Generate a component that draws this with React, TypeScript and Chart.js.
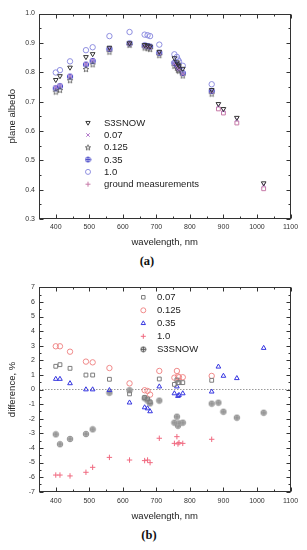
import React, { useEffect, useRef } from 'react';
import { Chart, registerables } from 'chart.js';
import { drawPoint } from 'chart.js/helpers';

Chart.register(...registerables);

// ---------- data ----------
const wavelengths = [400, 412.5, 442.5, 490, 510, 560, 620, 665, 673.75, 681.25, 708.75, 753.75, 761.25, 764.375, 767.5, 778.75, 865, 885, 900, 940, 1020];

// panel (a): plane albedo
const albedoS3SNOW = [0.774, 0.787, 0.816, 0.852, 0.862, 0.884, 0.899, 0.893, 0.891, 0.888, 0.870, 0.848, 0.834, 0.827, 0.821, 0.812, 0.740, 0.692, 0.675, 0.645, 0.422];
const albedo007 = [0.749, 0.755, 0.787, 0.828, 0.841, 0.879, 0.897, 0.889, 0.887, 0.884, 0.865, 0.829, 0.822, 0.815, 0.810, 0.794, 0.733, 0.686, 0.669, 0.639, 0.416];
const albedo0125 = [0.734, 0.740, 0.773, 0.811, 0.827, 0.870, 0.893, 0.884, 0.882, 0.879, 0.858, 0.822, 0.815, 0.808, 0.805, 0.789, 0.727, null, null, null, null];
const albedo035 = [0.745, 0.752, 0.785, 0.826, 0.838, 0.879, 0.898, 0.891, 0.889, 0.887, 0.866, 0.832, 0.824, 0.818, 0.813, 0.797, 0.736, null, null, null, null];
const albedo10 = [0.799, 0.807, 0.837, 0.875, 0.885, 0.923, 0.937, 0.928, 0.926, 0.923, 0.894, 0.861, 0.852, 0.843, 0.837, 0.822, 0.759, null, null, null, null];
const albedoGround = [null, null, null, null, null, null, null, null, null, null, null, null, null, null, null, null, null, 0.675, 0.661, 0.627, 0.403];

// panel (b): difference, %
const diff007 = [1.59, 1.70, 1.45, 0.99, 0.99, 0.70, -0.30, -0.55, -0.65, -0.85, 0.72, 0.35, 0.65, 0.47, 0.47, 0.47, 0.63, null, null, null, null];
const diff0125 = [2.96, 2.96, 2.59, 1.91, 1.86, 1.47, 0.42, -0.05, -0.10, -0.35, 1.27, 0.81, 1.27, 0.90, 0.84, 0.84, 0.93, null, null, null, null];
const diff035 = [0.72, 0.72, 0.42, 0.0, 0.0, -0.05, -0.90, -1.23, -1.30, -1.50, 0.20, -0.27, 0.20, -0.45, -0.38, -0.27, -0.15, 1.56, 0.93, 0.77, 2.84];
const diff10 = [-5.86, -5.86, -5.92, -5.67, -5.33, -4.65, -4.83, -4.87, -4.83, -5.01, -3.34, -3.69, -3.23, -3.73, -3.64, -3.69, -3.41, null, null, null, null];
const diffS3SNOW = [-3.07, -3.75, -3.39, -3.05, -2.73, -0.22, -0.05, -0.60, -0.76, -0.95, -0.76, -2.27, -1.86, -2.48, -2.32, -2.27, -0.97, -0.90, -1.52, -1.93, -1.59];
const zeroLine = [0, 0];

// ticks
const xTicks = [400, 500, 600, 700, 800, 900, 1000, 1100];
const xTickLabels = ['400', '500', '600', '700', '800', '900', '1000', '1100'];
const xMinorTicks = [350, 450, 550, 650, 750, 850, 950, 1050];
const xRange = [350, 1100];
const yTicksA = [0.3, 0.4, 0.5, 0.6, 0.7, 0.8, 0.9, 1.0];
const yTickLabelsA = ['0.3', '0.4', '0.5', '0.6', '0.7', '0.8', '0.9', '1.0'];
const yMinorTicksA = [0.35, 0.45, 0.55, 0.65, 0.75, 0.85, 0.95];
const yTicksB = [-7, -6, -5, -4, -3, -2, -1, 0, 1, 2, 3, 4, 5, 6, 7];
const yTickLabelsB = ['-7', '-6', '-5', '-4', '-3', '-2', '-1', '0', '1', '2', '3', '4', '5', '6', '7'];
const yMinorTicksB = [-6.5, -5.5, -4.5, -3.5, -2.5, -1.5, -0.5, 0.5, 1.5, 2.5, 3.5, 4.5, 5.5, 6.5];

const SANS = '"Liberation Sans", Arial, sans-serif';

const toPoints = (vals: (number | null)[]) =>
  wavelengths.map((w, i) => ({ x: w, y: vals[i] })).filter((p) => p.y !== null);

// ---------- marker images ----------
function crossCircle(stroke: string, fill: string | null, r: number, crossColor?: string) {
  const size = Math.ceil(r * 2 + 2);
  const c = document.createElement('canvas');
  c.width = size; c.height = size;
  const g = c.getContext('2d')!;
  const m = size / 2;
  g.strokeStyle = stroke; g.lineWidth = 1;
  g.beginPath(); g.arc(m, m, r, 0, Math.PI * 2);
  if (fill) { g.fillStyle = fill; g.fill(); }
  g.stroke();
  g.strokeStyle = crossColor || stroke;
  g.beginPath();
  g.moveTo(m - r, m); g.lineTo(m + r, m);
  g.moveTo(m, m - r); g.lineTo(m, m + r);
  g.stroke();
  return c;
}
function starImg(stroke: string, r: number) {
  const size = Math.ceil(r * 2 + 2);
  const c = document.createElement('canvas');
  c.width = size; c.height = size;
  const g = c.getContext('2d')!;
  const m = size / 2;
  g.strokeStyle = stroke; g.lineWidth = 0.8;
  g.beginPath();
  for (let k = 0; k < 10; k++) {
    const rr = k % 2 === 0 ? r : r * 0.45;
    const ang = -Math.PI / 2 + (k * Math.PI) / 5;
    const px = m + rr * Math.cos(ang), py = m + rr * Math.sin(ang) + 0.4;
    if (k === 0) g.moveTo(px, py); else g.lineTo(px, py);
  }
  g.closePath(); g.stroke();
  return c;
}

// ---------- plugins ----------
const framePlugin = {
  id: 'frame',
  afterDatasetsDraw(chart: any, _a: any, opts: any) {
    const { ctx, chartArea: a, scales } = chart;
    const xs = scales.x, ys = scales.y;
    ctx.save();
    ctx.strokeStyle = '#333';
    ctx.lineWidth = 1;
    const L = Math.round(a.left) + 0.5, R = Math.round(a.right) - 0.5;
    const T = Math.round(a.top) + 0.5, B = Math.round(a.bottom) - 0.5;
    ctx.strokeRect(L, T, R - L, B - T);
    const seg = (x1: number, y1: number, x2: number, y2: number) => {
      ctx.beginPath(); ctx.moveTo(x1, y1); ctx.lineTo(x2, y2); ctx.stroke();
    };
    const xt = (vals: number[], len: number) => vals.forEach((v) => {
      const p = Math.round(xs.getPixelForValue(v)) + 0.5;
      seg(p, B, p, B - len); seg(p, T, p, T + len);
    });
    const yt = (vals: number[], len: number) => vals.forEach((v) => {
      const p = Math.round(ys.getPixelForValue(v)) + 0.5;
      seg(L, p, L + len, p); seg(R, p, R - len, p);
    });
    xt(opts.xMajor, 4); xt(opts.xMinor, 2);
    yt(opts.yMajor, 4); yt(opts.yMinor, 2);
    ctx.restore();
  },
};

const legendPlugin = {
  id: 'insideLegend',
  afterDraw(chart: any, _a: any, opts: any) {
    const { ctx, chartArea: a } = chart;
    ctx.save();
    ctx.font = `9.5px ${SANS}`;
    ctx.textBaseline = 'middle';
    const items = chart.data.datasets.filter((d: any) => d.inLegend);
    items.forEach((d: any, i: number) => {
      const y = a.top + opts.y + i * opts.spacing;
      ctx.strokeStyle = d.borderColor;
      ctx.fillStyle = 'rgba(0,0,0,0)';
      ctx.lineWidth = 1;
      drawPoint(ctx, {
        pointStyle: d.legendPointStyle || d.pointStyle,
        rotation: d.pointRotation || 0,
        radius: 2.5,
        borderWidth: 1,
      } as any, a.left + opts.x, y);
      ctx.fillStyle = '#222';
      ctx.fillText(d.label, a.left + opts.textX, y + 0.5);
    });
    ctx.restore();
  },
};

function axes(yMin: number, yMax: number, yTicks: number[], yLabels: string[], yTitle: string, xAxisH: number, xLabelPad: number, xTitlePad: number) {
  return {
    x: {
      type: 'linear',
      min: xRange[0], max: xRange[1],
      grid: { display: false, drawTicks: false },
      border: { display: false },
      afterBuildTicks: (s: any) => { s.ticks = xTicks.map((v) => ({ value: v })); },
      afterFit: (s: any) => { s.height = xAxisH; },
      ticks: {
        autoSkip: false, maxRotation: 0, padding: xLabelPad, color: '#333',
        font: { family: SANS, size: 7 },
        callback: (_v: any, i: number) => xTickLabels[i],
      },
      title: {
        display: true, text: 'wavelength, nm', color: '#222',
        font: { family: SANS, size: 9.5 },
        padding: { top: 0, bottom: xTitlePad },
      },
    },
    y: {
      type: 'linear',
      min: yMin, max: yMax,
      grid: { display: false, drawTicks: false },
      border: { display: false },
      afterBuildTicks: (s: any) => { s.ticks = yTicks.map((v) => ({ value: v })); },
      afterFit: (s: any) => { s.width = 39; },
      ticks: {
        autoSkip: false, padding: 4, color: '#333',
        font: { family: SANS, size: 7 },
        callback: (_v: any, i: number) => yLabels[i],
      },
      title: {
        display: true, text: yTitle, color: '#222',
        font: { family: SANS, size: 9.5 },
        padding: { top: 6.6, bottom: 0 },
      },
    },
  };
}

export default function App() {
  const refA = useRef<HTMLCanvasElement>(null);
  const refB = useRef<HTMLCanvasElement>(null);

  useEffect(() => {
    const cc035 = crossCircle('#4646c8', null, 2.7);
    const ccS3 = crossCircle('#9a9a9a', '#b9b9b9', 2.8, '#8a8a8a');
    const ccS3Legend = crossCircle('#555', null, 2.5);
    const star = starImg('#555', 3.0);
    const starLegend = starImg('#444', 2.8);
    const cc035Legend = crossCircle('#4646c8', null, 2.5);
    const base = { pointRadius: 2.7, borderWidth: 1, backgroundColor: 'rgba(0,0,0,0)', inLegend: true };

    const chartA = new Chart(refA.current!, {
      type: 'scatter',
      data: {
        datasets: [
          { ...base, label: 'S3SNOW', data: toPoints(albedoS3SNOW), pointStyle: 'triangle', pointRotation: 180, borderColor: '#333' },
          { ...base, label: '0.07', data: toPoints(albedo007), pointStyle: 'crossRot', borderColor: '#b57ccc' },
          { ...base, label: '0.125', data: toPoints(albedo0125), pointStyle: star, legendPointStyle: starLegend, borderColor: '#444' },
          { ...base, label: '0.35', data: toPoints(albedo035), pointStyle: cc035, legendPointStyle: cc035Legend, borderColor: '#4646c8' },
          { ...base, label: '1.0', data: toPoints(albedo10), pointStyle: 'circle', borderColor: '#8f8fe0' },
          { ...base, label: 'ground measurements', data: toPoints(albedoGround), pointStyle: 'rect', legendPointStyle: 'cross', borderColor: '#c77aa8' },
        ] as any,
      },
      options: {
        responsive: false,
        animation: false,
        events: [],
        layout: { padding: { top: 13.5, right: 16.5, left: 0, bottom: 0 } },
        scales: axes(0.3, 1.0, yTicksA, yTickLabelsA, 'plane albedo', 31, 4, 1.6) as any,
        plugins: {
          legend: { display: false },
          tooltip: { enabled: false },
          frame: { xMajor: xTicks, xMinor: xMinorTicks, yMajor: yTicksA, yMinor: yMinorTicksA },
          insideLegend: { x: 49, textX: 65, y: 109.2, spacing: 12.3 },
        } as any,
      },
      plugins: [framePlugin, legendPlugin],
    });

    const chartB = new Chart(refB.current!, {
      type: 'scatter',
      data: {
        datasets: [
          { ...base, label: '0.07', data: toPoints(diff007), pointStyle: 'rect', borderColor: '#7d7d7d' },
          { ...base, label: '0.125', data: toPoints(diff0125), pointStyle: 'circle', borderColor: '#f08a8a' },
          { ...base, label: '0.35', data: toPoints(diff035), pointStyle: 'triangle', borderColor: '#3535e0' },
          { ...base, label: '1.0', data: toPoints(diff10), pointStyle: 'cross', borderColor: '#f06a80' },
          { ...base, label: 'S3SNOW', data: toPoints(diffS3SNOW), pointStyle: ccS3, borderColor: '#6a6a6a', legendPointStyle: ccS3Legend },
          {
            type: 'line', label: 'zero', inLegend: false, order: 10,
            data: xRange.map((x, i) => ({ x, y: zeroLine[i] })),
            borderColor: '#9a9a9a', borderWidth: 1, borderDash: [1.5, 1.5], pointRadius: 0, showLine: true,
          },
        ] as any,
      },
      options: {
        responsive: false,
        animation: false,
        events: [],
        layout: { padding: { top: 12.3, right: 16.5, left: 0, bottom: 0 } },
        scales: axes(-7, 7, yTicksB, yTickLabelsB, 'difference, %', 33.3, 4.8, 3.3) as any,
        plugins: {
          legend: { display: false },
          tooltip: { enabled: false },
          frame: { xMajor: xTicks, xMinor: xMinorTicks, yMajor: yTicksB, yMinor: yMinorTicksB },
          insideLegend: { x: 104.3, textX: 118, y: 10, spacing: 13 },
        } as any,
      },
      plugins: [framePlugin, legendPlugin],
    });

    return () => { chartA.destroy(); chartB.destroy(); };
  }, []);

  const cap: React.CSSProperties = {
    position: 'absolute', textAlign: 'center', lineHeight: '16px',
    font: 'bold 12.5px "Liberation Serif", "Times New Roman", serif', color: '#111',
  };

  return (
    <div style={{ position: 'absolute', left: 0, top: 0, width: 307, height: 550, background: '#fff', overflow: 'hidden' }}>
      <canvas ref={refA} width={307} height={250} style={{ position: 'absolute', left: 0, top: 0 }} />
      <div style={{ ...cap, left: 0, top: 254, width: 294 }}>(a)</div>
      <canvas ref={refB} width={307} height={250} style={{ position: 'absolute', left: 0, top: 275 }} />
      <div style={{ ...cap, left: 0, top: 528, width: 298 }}>(b)</div>
    </div>
  );
}
